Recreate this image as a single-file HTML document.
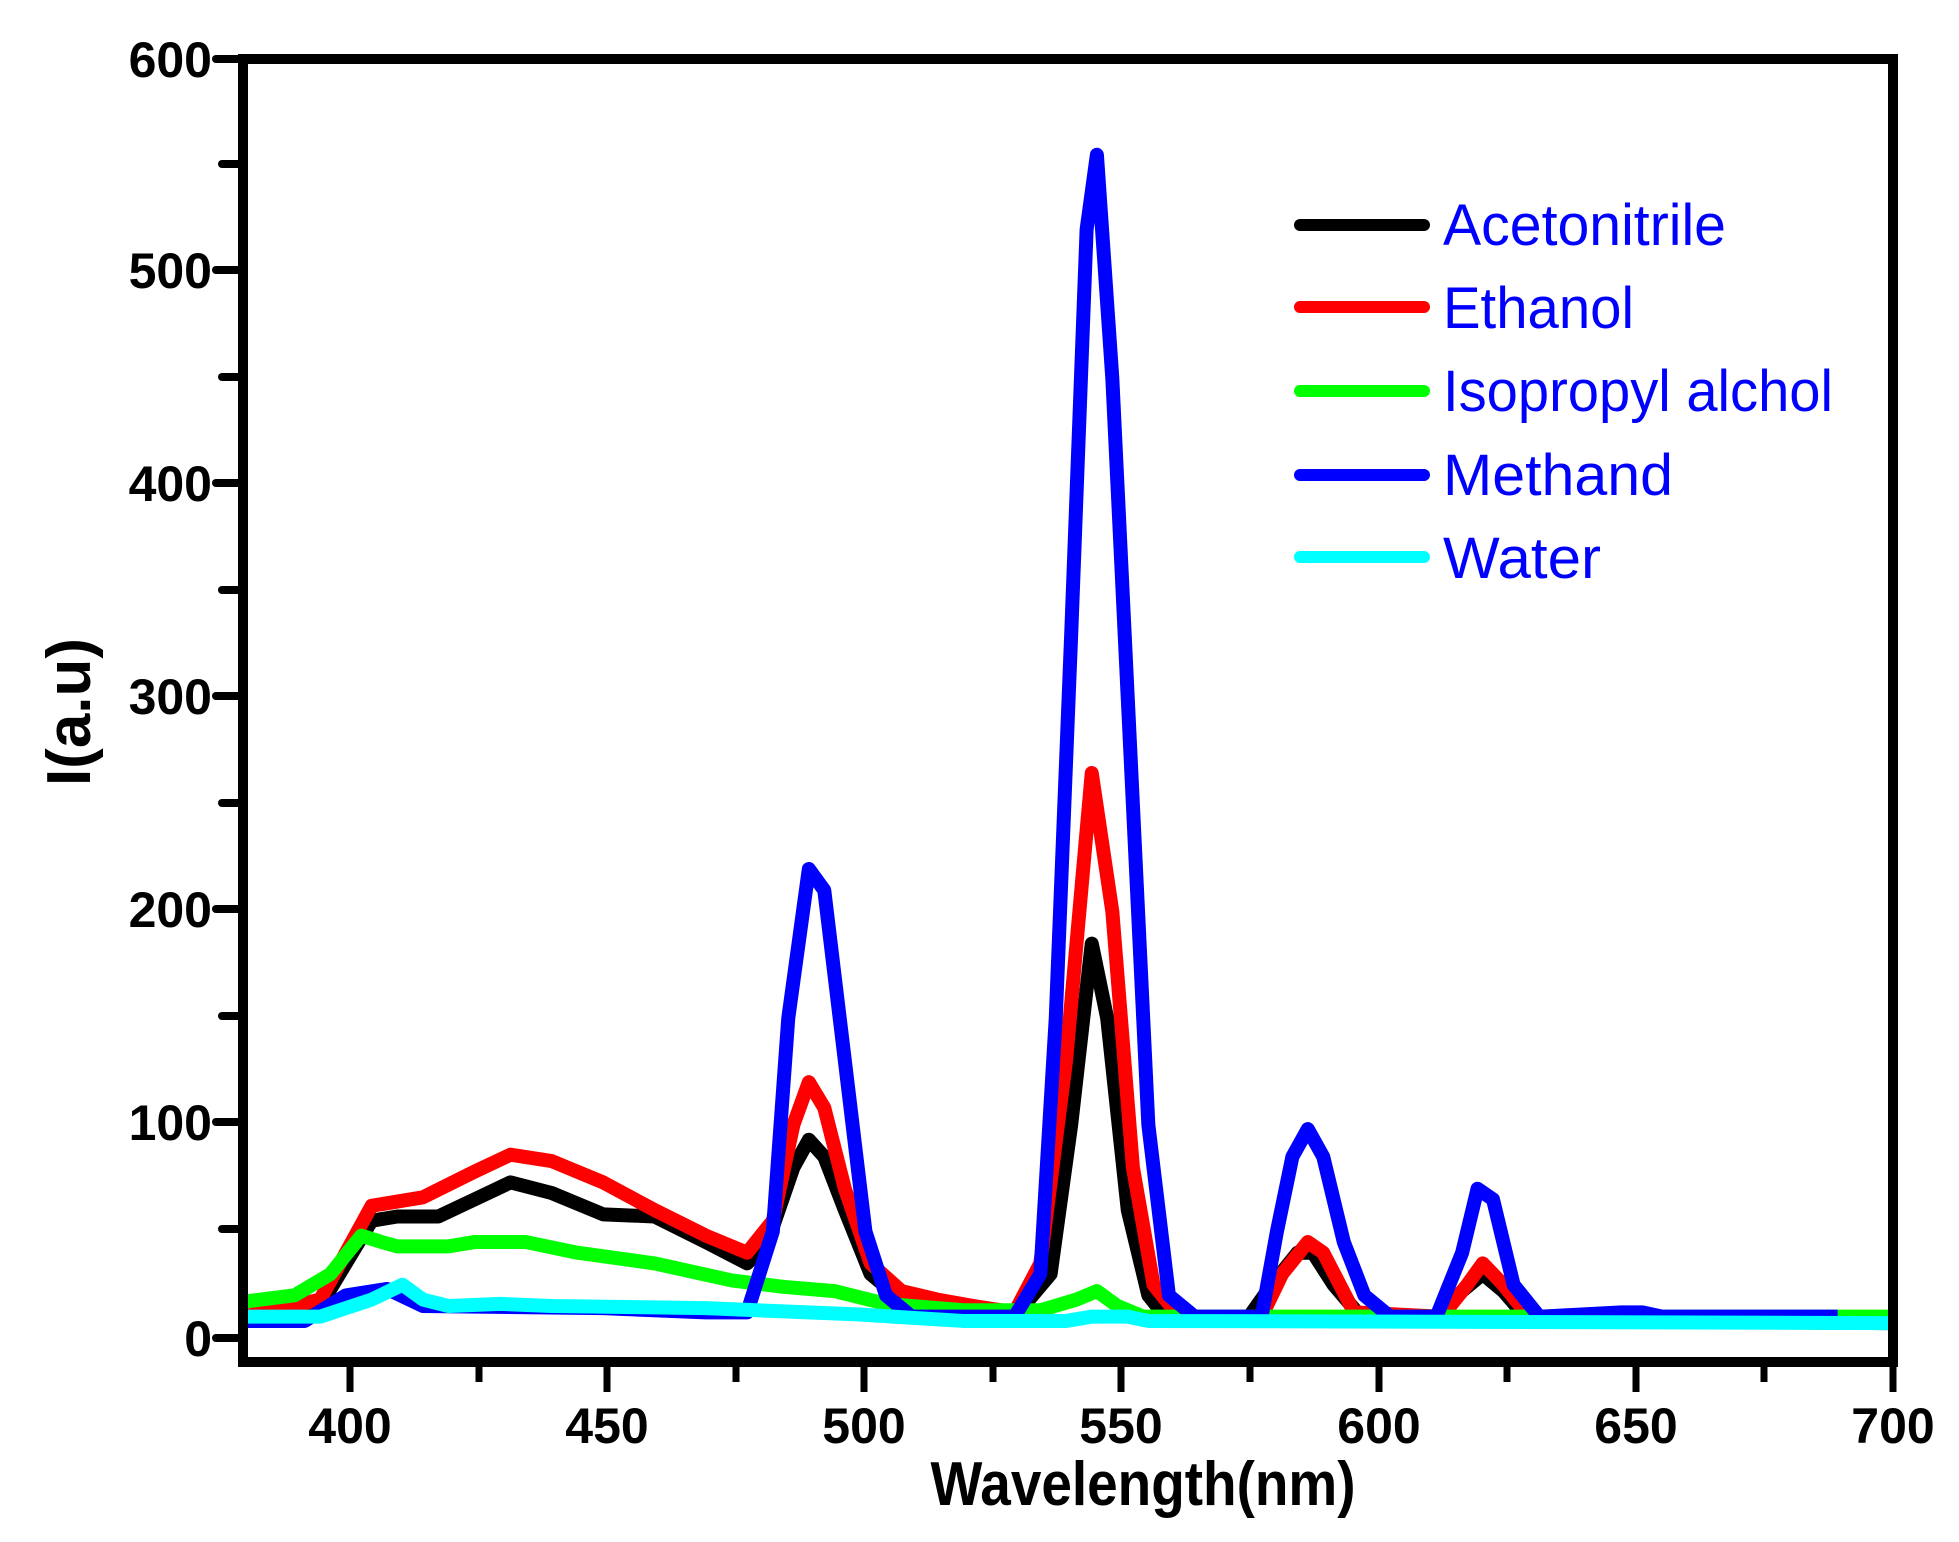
<!DOCTYPE html>
<html><head><meta charset="utf-8"><style>body{margin:0;background:#fff}svg{display:block}</style></head>
<body>
<svg width="1959" height="1542" viewBox="0 0 1959 1542" xmlns="http://www.w3.org/2000/svg" font-family="Liberation Sans, sans-serif">
<rect width="1959" height="1542" fill="#fff"/>
<g stroke="#000" stroke-width="8" stroke-linecap="round">
<line x1="216" y1="59" x2="243" y2="59"/>
<line x1="222" y1="164" x2="243" y2="164"/>
<line x1="216" y1="270" x2="243" y2="270"/>
<line x1="222" y1="377" x2="243" y2="377"/>
<line x1="216" y1="483" x2="243" y2="483"/>
<line x1="222" y1="590" x2="243" y2="590"/>
<line x1="216" y1="696" x2="243" y2="696"/>
<line x1="222" y1="803" x2="243" y2="803"/>
<line x1="216" y1="909" x2="243" y2="909"/>
<line x1="222" y1="1016" x2="243" y2="1016"/>
<line x1="216" y1="1122" x2="243" y2="1122"/>
<line x1="222" y1="1229" x2="243" y2="1229"/>
<line x1="216" y1="1338" x2="243" y2="1338"/>
</g>
<g stroke="#000" stroke-width="7">
<line x1="350" y1="1362" x2="350" y2="1392"/><line x1="479" y1="1362" x2="479" y2="1382"/>
<line x1="607" y1="1362" x2="607" y2="1392"/><line x1="736" y1="1362" x2="736" y2="1382"/>
<line x1="864" y1="1362" x2="864" y2="1392"/><line x1="993" y1="1362" x2="993" y2="1382"/>
<line x1="1121" y1="1362" x2="1121" y2="1392"/><line x1="1250" y1="1362" x2="1250" y2="1382"/>
<line x1="1379" y1="1362" x2="1379" y2="1392"/><line x1="1507" y1="1362" x2="1507" y2="1382"/>
<line x1="1636" y1="1362" x2="1636" y2="1392"/><line x1="1764" y1="1362" x2="1764" y2="1382"/>
<line x1="1893" y1="1362" x2="1893" y2="1392"/>
</g>
<g transform="translate(243,1338) scale(5.144,-2.132) translate(-380,0)" fill="none" stroke-width="14" stroke-linejoin="round">
<polyline vector-effect="non-scaling-stroke" stroke="#000" points="380,10 395,15 400,35 405,55 410,57 418,57 425,65 432,73 440,68 450,58 460,57 470,45 478,35 482,45 487,80 490,93 493,85 497,60 502,30 508,18 515,12 530,10 537,30 541,100 545,185 548,150 552,60 556,20 560,8 575,8 580,25 585,40 588,40 592,25 598,8 612,8 617,22 621,30 625,22 630,8 700,7"/>
<polyline vector-effect="non-scaling-stroke" stroke="#f00" points="380,10 395,18 400,40 405,62 415,66 425,78 432,86 440,83 450,73 460,60 470,48 478,40 483,55 487,100 490,120 493,108 497,70 502,35 508,22 515,18 522,15 530,12 535,35 540,130 545,265 549,200 553,80 557,25 562,10 578,10 582,30 587,45 590,40 596,12 613,10 618,25 621,35 625,25 630,10 700,8"/>
<polyline vector-effect="non-scaling-stroke" stroke="#0f0" points="380,17 390,20 397,30 403,48 407,45 410,43 420,43 425,45 435,45 445,40 460,35 475,27 485,24 495,22 505,16 520,13 535,13 542,18 546,22 550,15 555,10 700,10"/>
<polyline vector-effect="non-scaling-stroke" stroke="#00f" points="380,8 392,8 400,20 408,23 415,15 450,14 470,12 478,12 483,50 486,150 490,220 493,210 497,130 501,50 505,20 510,10 530,10 535,30 538,150 541,330 544,520 546,555 549,450 552,300 556,100 560,20 565,10 578,10 581,50 584,85 587,98 590,85 594,45 598,20 603,10 612,10 617,40 620,70 623,65 627,25 632,10 648,12 652,12 656,10 690,10"/>
<polyline vector-effect="non-scaling-stroke" stroke="#0ff" points="380,10 395,10 405,18 411,25 415,18 420,15 430,16 440,15 470,14 500,11 520,8 540,8 545,10 552,10 556,8 700,7"/>
</g>
<rect x="243" y="59" width="1650" height="1303" fill="none" stroke="#000" stroke-width="10"/>
<g font-weight="bold" font-size="50" text-anchor="end" fill="#000">
<text x="212" y="77">600</text><text x="212" y="288">500</text><text x="212" y="501">400</text>
<text x="212" y="714">300</text><text x="212" y="927">200</text><text x="212" y="1140">100</text><text x="212" y="1356">0</text>
</g>
<g font-weight="bold" font-size="50" text-anchor="middle" fill="#000">
<text x="350" y="1443">400</text><text x="607" y="1443">450</text><text x="864" y="1443">500</text>
<text x="1121" y="1443">550</text><text x="1379" y="1443">600</text><text x="1636" y="1443">650</text><text x="1893" y="1443">700</text>
</g>
<text x="1143" y="1505" font-weight="bold" font-size="62" text-anchor="middle" textLength="425" lengthAdjust="spacingAndGlyphs">Wavelength(nm)</text>
<text transform="translate(90,712) rotate(-90)" font-weight="bold" font-size="62" text-anchor="middle">I(a.u)</text>
<g stroke-width="12" stroke-linecap="round">
<line x1="1300" y1="225" x2="1424" y2="225" stroke="#000"/>
<line x1="1300" y1="307" x2="1424" y2="307" stroke="#f00"/>
<line x1="1300" y1="391" x2="1424" y2="391" stroke="#0f0"/>
<line x1="1300" y1="475" x2="1424" y2="475" stroke="#00f"/>
<line x1="1300" y1="557" x2="1424" y2="557" stroke="#0ff"/>
</g>
<g fill="#00f" font-size="58">
<text x="1443" y="245" textLength="283" lengthAdjust="spacingAndGlyphs">Acetonitrile</text>
<text x="1443" y="328" textLength="191" lengthAdjust="spacingAndGlyphs">Ethanol</text>
<text x="1443" y="411" textLength="390" lengthAdjust="spacingAndGlyphs">Isopropyl alchol</text>
<text x="1443" y="495" textLength="230" lengthAdjust="spacingAndGlyphs">Methand</text>
<text x="1443" y="578" textLength="158" lengthAdjust="spacingAndGlyphs">Water</text>
</g>
</svg>
</body></html>
